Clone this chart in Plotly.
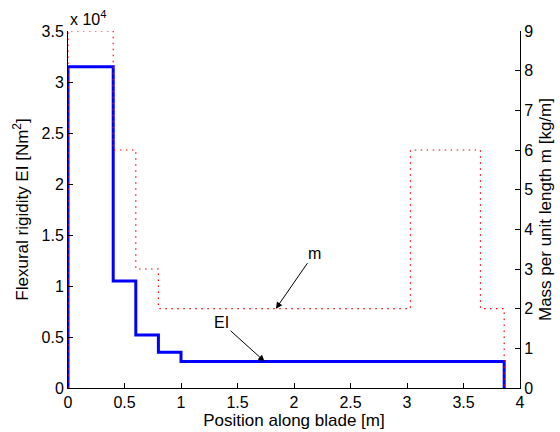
import plotly.graph_objects as go

# Data
EI_edges = [0, 0.4, 0.6, 0.8, 1.0, 3.86]
EI_vals = [31500, 10500, 5200, 3500, 2600]
m_edges = [0, 0.4, 0.6, 0.8, 3.03, 3.65, 3.86]
m_vals = [9, 6, 3, 2, 6, 2]
x_ticks = [0, 0.5, 1, 1.5, 2, 2.5, 3, 3.5, 4]
ei_ticks = [0, 5000, 10000, 15000, 20000, 25000, 30000, 35000]
ei_ticktext = ["0", "0.5", "1", "1.5", "2", "2.5", "3", "3.5"]
m_ticks = [0, 1, 2, 3, 4, 5, 6, 7, 8, 9]


def steps(edges, vals):
    xs = [edges[0]]
    ys = [0]
    for i, v in enumerate(vals):
        xs += [edges[i], edges[i + 1]]
        ys += [v, v]
    xs.append(edges[-1])
    ys.append(0)
    return xs, ys


mx, my = steps(m_edges, m_vals)
ex, ey = steps(EI_edges, EI_vals)

fig = go.Figure()
fig.add_trace(go.Scatter(x=mx, y=my, mode="lines", yaxis="y2",
                         line=dict(color="red", width=1.2, dash="1.5px,4.5px"),
                         showlegend=False, hoverinfo="skip"))
fig.add_trace(go.Scatter(x=ex, y=ey, mode="lines",
                         line=dict(color="#0000ff", width=3),
                         showlegend=False))

font = dict(family="Arial, Liberation Sans, sans-serif", size=16, color="black")
axcommon = dict(ticks="inside", ticklen=5, tickcolor="black", showline=True,
                linecolor="black", linewidth=1, showgrid=False, zeroline=False,
                automargin=False, tickfont=dict(size=16))

fig.update_layout(
    template="none",
    width=560, height=432,
    margin=dict(l=68, r=40, t=31, b=44),
    paper_bgcolor="white", plot_bgcolor="white",
    font=font,
    xaxis=dict(range=[0, 4], tickvals=x_ticks, ticktext=[str(t) for t in x_ticks],
               title=dict(text="Position along blade [m]", font=dict(size=17), standoff=2),
               **axcommon),
    yaxis=dict(range=[0, 35000], tickvals=ei_ticks, ticktext=ei_ticktext,
               title=dict(text="Flexural rigidity EI [Nm<sup>2</sup>]", font=dict(size=17), standoff=8),
               **axcommon),
    yaxis2=dict(range=[0, 9], tickvals=m_ticks, overlaying="y", side="right",
                title=dict(text="Mass per unit length m [kg/m]", font=dict(size=17), standoff=6),
                **axcommon),
    annotations=[
        dict(x=0, y=1, xref="paper", yref="paper", text="x 10<sup>4</sup>",
             showarrow=False, xanchor="left", yanchor="bottom", yshift=1,
             font=dict(size=16)),
        dict(x=1.84, y=2, xref="x", yref="y2", text="m", ax=2.18, ay=3.4,
             axref="x", ayref="y2", showarrow=True, arrowhead=2, arrowsize=1.3,
             arrowwidth=1, arrowcolor="black", font=dict(size=16), standoff=0),
        dict(x=1.74, y=2600, xref="x", yref="y", text="EI", ax=1.36, ay=6400,
             axref="x", ayref="y", showarrow=True, arrowhead=2, arrowsize=1.3,
             arrowwidth=1, arrowcolor="black", font=dict(size=16), standoff=0),
    ],
)

fig.write_html("out.html", config={"displayModeBar": False},
               post_script="document.body.style.margin='0px';document.body.style.padding='0px';")
